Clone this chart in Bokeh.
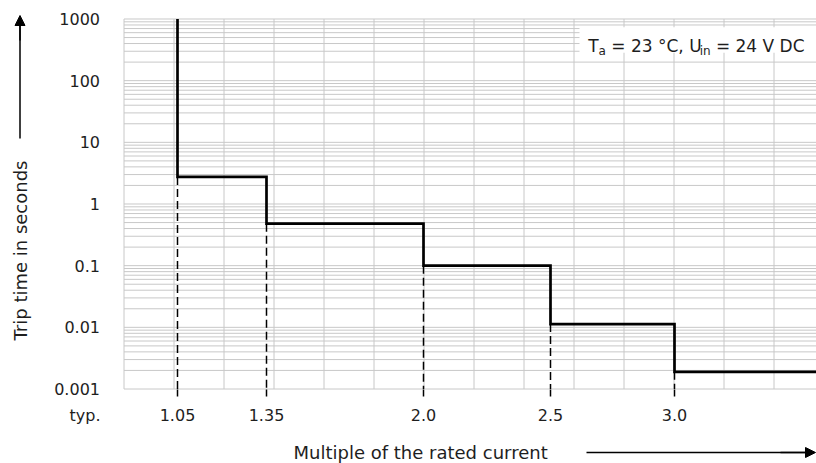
import math
from bokeh.plotting import figure
from bokeh.models import (Range1d, FixedTicker, Label, Arrow, NormalHead,
                          BoxAnnotation, LinearAxis, LogAxis)
from bokeh.embed import file_html
from bokeh.resources import INLINE

# ---- data ----
multiples = ["1.05", "1.35", "2.0", "2.5", "3.0"]
# schematic position of each multiple on the (non-linear) x axis, in grid units
x_pos = [1.07, 2.85, 5.99, 8.53, 11.01]
# trip time (s) reached at each multiple
trip_times = [2.75, 0.48, 0.1, 0.0113, 0.0019]
y_ticks = [0.001, 0.01, 0.1, 1, 10, 100, 1000]
y_tick_labels = ["0.001", "0.01", "0.1", "1", "10", "100", "1000"]
x_grid = list(range(0, 14))

FONT = "DejaVu Sans"
TXT = "#1e1e1e"
GRID = "#c8c8c8"

# page-pixel helpers used only for layout placement
def ux(px):
    return (px - 123.5) / 50.0

def vy(py):
    return 10 ** ((388.5 - py) / 61.667 - 3)

X_END = ux(816)
Y_MIN, Y_MAX = 1e-3, 1e3

p = figure(width=816, height=463, output_backend="svg", toolbar_location=None,
           x_range=Range1d(ux(0), ux(816)), y_range=Range1d(vy(463), vy(0)),
           y_axis_type="log", x_axis_location=None, y_axis_location=None,
           min_border=0)
p.outline_line_color = None
p.grid.visible = False
p.background_fill_color = "white"

# ---- grid of the plot area ----
minor = [m * 10 ** d for d in range(-3, 3) for m in range(2, 10)]
p.segment(x0=x_grid, y0=[Y_MIN] * len(x_grid), x1=x_grid, y1=[Y_MAX] * len(x_grid),
          line_color=GRID, line_width=1)
hlines = y_ticks + minor
p.segment(x0=[0] * len(hlines), y0=hlines, x1=[X_END] * len(hlines), y1=hlines,
          line_color=GRID, line_width=1)

# ---- axes fixed at the plot-area edges ----
yax = LogAxis(fixed_location=0,
              ticker=FixedTicker(ticks=y_ticks, minor_ticks=[]))
yax.major_label_overrides = {v: l for v, l in zip(y_ticks, y_tick_labels)}
yax.major_tick_line_color = None
yax.major_tick_out = 0
yax.major_tick_in = 0
yax.major_label_standoff = 24
xax = LinearAxis(fixed_location=Y_MIN, ticker=FixedTicker(ticks=x_pos, minor_ticks=[]))
xax.major_label_overrides = {x: l for x, l in zip(x_pos, multiples)}
xax.major_tick_in = 0
xax.major_tick_out = 10
xax.major_tick_line_color = "black"
xax.major_tick_line_width = 1.5
xax.major_tick_line_dash = "7 3"
xax.major_tick_line_dash_offset = 7
xax.major_label_standoff = 10
for ax in (xax, yax):
    ax.axis_line_color = None
    ax.minor_tick_line_color = None
    ax.major_label_text_font = FONT
    ax.major_label_text_font_size = "16px"
    ax.major_label_text_color = TXT
p.add_layout(yax, "left")
p.add_layout(xax, "below")

# ---- dashed drop lines ----
p.segment(x0=x_pos, y0=trip_times, x1=x_pos, y1=[Y_MIN] * len(x_pos),
          line_color="black", line_width=1.5, line_dash="8 4")

# ---- step curve ----
sx, sy = [x_pos[0]], [Y_MAX]
for i, (x, t) in enumerate(zip(x_pos, trip_times)):
    sx.append(x); sy.append(t)
    nx = x_pos[i + 1] if i + 1 < len(x_pos) else X_END
    sx.append(nx); sy.append(t)
p.line(sx, sy, line_color="black", line_width=2.7, line_join="miter")

# ---- condition box ----
p.add_layout(BoxAnnotation(left=ux(579), right=ux(830), top=vy(26.7),
                           bottom=vy(52.3), fill_color="white", fill_alpha=1,
                           line_color=None))
main_base = vy(45.7)
sub_base = vy(50.5)
for txt, px, base, size in [("T", 587.7, main_base, "17px"),
                            ("a", 598.0, sub_base, "12px"),
                            ("= 23 °C, U", 610.8, main_base, "17px"),
                            ("in", 699.2, sub_base, "12px"),
                            ("= 24 V DC", 715.4, main_base, "17px")]:
    p.add_layout(Label(x=ux(px), y=base, text=txt, text_font=FONT,
                       text_font_size=size, text_color=TXT,
                       text_align="left", text_baseline="alphabetic"))

# ---- axis titles and arrows ----
p.add_layout(Label(x=ux(20), y=vy(250), text="Trip time in seconds",
                   angle=math.pi / 2, text_font=FONT, text_font_size="18px",
                   text_color=TXT, text_align="center", text_baseline="middle"))
p.add_layout(Label(x=ux(100), y=vy(415), text="typ.", text_font=FONT,
                   text_font_size="16px", text_color=TXT,
                   text_align="right", text_baseline="middle"))
p.add_layout(Label(x=ux(293), y=vy(452), text="Multiple of the rated current",
                   text_font=FONT, text_font_size="18px", text_color=TXT,
                   text_align="left", text_baseline="middle"))

p.segment(x0=[ux(19.5)], y0=[vy(138)], x1=[ux(19.5)], y1=[vy(22)],
          line_color="black", line_width=1.5)
p.add_layout(Arrow(end=NormalHead(size=10, fill_color="black", line_color="black"),
                   x_start=ux(19.5), y_start=vy(40), x_end=ux(19.5), y_end=vy(15),
                   line_color="black", line_width=1.5))
p.segment(x0=[ux(586)], y0=[vy(452)], x1=[ux(808)], y1=[vy(452)],
          line_color="black", line_width=1.5)
p.add_layout(Arrow(end=NormalHead(size=10, fill_color="black", line_color="black"),
                   x_start=ux(780), y_start=vy(452), x_end=ux(815), y_end=vy(452),
                   line_color="black", line_width=1.5))

open("out.html", "w").write(file_html(p, INLINE))
